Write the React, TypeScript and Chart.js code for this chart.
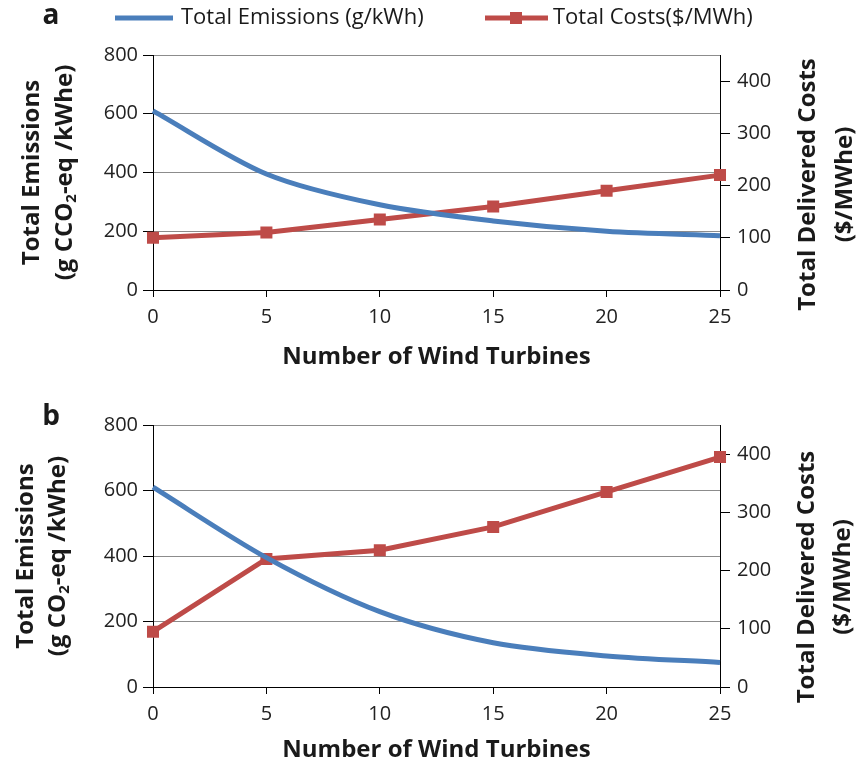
import React, { useEffect, useRef } from "react";
import { Chart, registerables } from "chart.js";

Chart.register(...registerables);

// ---- data ----
const turbines = [0, 5, 10, 15, 20, 25];
const emissionsA = [610, 395, 290, 235, 200, 185];
const costsA = [100, 110, 135, 160, 190, 220];
const emissionsB = [610, 395, 230, 135, 95, 75];
const costsB = [95, 220, 235, 275, 335, 395];
const emissionTicks = [0, 200, 400, 600, 800];
const costTicks = [0, 100, 200, 300, 400];
const legendLabels = ["Total Emissions (g/kWh)", "Total Costs($/MWh)"];
const xTitle = "Number of Wind Turbines";
const leftTitleA = ["Total Emissions", "(g CCO|2|-eq /kWhe)"];
const leftTitleB = ["Total Emissions", "(g CO|2|-eq /kWhe)"];
const rightTitle = ["Total Delivered Costs", "($/MWhe)"];

const BLUE = "#4A7EBB";
const RED = "#BE4B48";
const FONT = "'Open Sans', Lato, sans-serif";
const TEXT = "#1a1a1a";
const TITLE_SIZE = 24;

type Panel = {
  letter: string;
  emissions: number[];
  costs: number[];
  height: number;
  top: number;
  xHeight: number;
  leftTitle: string[];
  legend: boolean;
  xTitleOffset: number;
  leftX: [number, number];
  rightX: [number, number];
  rightDy: number;
  letterY: number;
};

function drawRich(ctx: CanvasRenderingContext2D, text: string, cx: number, cy: number, size: number, weight = "bold") {
  const parts = text.split("|");
  const fontFor = (i: number) => `${weight} ${i % 2 === 1 ? Math.round(size * 0.62) : size}px ${FONT}`;
  let total = 0;
  parts.forEach((t, i) => {
    ctx.font = fontFor(i);
    total += ctx.measureText(t).width;
  });
  let x = cx - total / 2;
  ctx.textAlign = "left";
  ctx.textBaseline = "middle";
  parts.forEach((t, i) => {
    ctx.font = fontFor(i);
    ctx.fillText(t, x, i % 2 === 1 ? cy + size * 0.3 : cy);
    x += ctx.measureText(t).width;
  });
}

function decor(p: Panel) {
  return {
    id: "decor" + p.letter,
    afterDraw(chart: any) {
      const ctx: CanvasRenderingContext2D = chart.ctx;
      const a = chart.chartArea;
      const cy = (a.top + a.bottom) / 2;
      ctx.save();
      ctx.fillStyle = TEXT;
      // panel letter
      ctx.font = `bold 28px ${FONT}`;
      ctx.textAlign = "center";
      ctx.textBaseline = "middle";
      ctx.fillText(p.letter, 51, p.letterY);
      // left title
      ctx.save();
      ctx.translate(p.leftX[0], cy);
      ctx.rotate(-Math.PI / 2);
      drawRich(ctx, p.leftTitle[0], 0, 0, TITLE_SIZE);
      ctx.restore();
      ctx.save();
      ctx.translate(p.leftX[1], cy);
      ctx.rotate(-Math.PI / 2);
      drawRich(ctx, p.leftTitle[1], 0, 0, TITLE_SIZE);
      ctx.restore();
      // right title
      ctx.save();
      ctx.translate(p.rightX[0], cy + p.rightDy);
      ctx.rotate(-Math.PI / 2);
      drawRich(ctx, rightTitle[0], 0, 0, TITLE_SIZE);
      ctx.restore();
      ctx.save();
      ctx.translate(p.rightX[1], cy + p.rightDy);
      ctx.rotate(-Math.PI / 2);
      drawRich(ctx, rightTitle[1], 0, 0, TITLE_SIZE);
      ctx.restore();
      // x title
      drawRich(ctx, xTitle, (a.left + a.right) / 2, a.bottom + p.xTitleOffset, TITLE_SIZE);
      // legend
      if (p.legend) {
        const ly = 18;
        ctx.lineWidth = 5;
        ctx.strokeStyle = BLUE;
        ctx.beginPath();
        ctx.moveTo(115, ly);
        ctx.lineTo(173, ly);
        ctx.stroke();
        ctx.strokeStyle = RED;
        ctx.beginPath();
        ctx.moveTo(485, ly);
        ctx.lineTo(548, ly);
        ctx.stroke();
        ctx.fillStyle = RED;
        ctx.fillRect(516 - 6, ly - 6, 12, 12);
        ctx.fillStyle = TEXT;
        ctx.font = `22px ${FONT}`;
        ctx.textAlign = "left";
        ctx.textBaseline = "middle";
        ctx.fillText(legendLabels[0], 181, ly);
        ctx.fillText(legendLabels[1], 553, ly);
      }
      ctx.restore();
    },
  };
}

function makeConfig(p: Panel): any {
  const tickFont = { family: FONT, size: 20 };
  return {
    type: "line",
    data: {
      labels: turbines.map(String),
      datasets: [
        {
          label: legendLabels[0],
          data: p.emissions,
          yAxisID: "y",
          borderColor: BLUE,
          backgroundColor: BLUE,
          borderWidth: 5,
          pointRadius: 0,
          tension: 0.3,
        },
        {
          label: legendLabels[1],
          data: p.costs,
          yAxisID: "y1",
          borderColor: RED,
          backgroundColor: RED,
          borderWidth: 5,
          pointStyle: "rect",
          pointRadius: 8.5,
          pointBorderWidth: 0,
          tension: 0,
        },
      ],
    },
    options: {
      responsive: false,
      animation: false,
      layout: { padding: { top: p.top, left: 0, right: 0, bottom: 0 } },
      plugins: { legend: { display: false }, tooltip: { enabled: false } },
      scales: {
        x: {
          type: "category",
          offset: false,
          grid: { drawOnChartArea: false, tickLength: 7, tickColor: "#000" },
          border: { color: "#000", width: 1 },
          ticks: { font: tickFont, color: "#222", padding: 8, maxRotation: 0, autoSkip: false },
          afterFit: (s: any) => {
            s.height = p.xHeight;
          },
        },
        y: {
          position: "left",
          min: 0,
          max: 800,
          afterBuildTicks: (s: any) => {
            s.ticks = emissionTicks.map((v) => ({ value: v }));
          },
          ticks: { font: tickFont, color: "#222", padding: 5 },
          grid: {
            color: (c: any) => (c.tick && c.tick.value === 0 ? "rgba(0,0,0,0)" : "#8c8c8c"),
            tickLength: 10,
            tickColor: "#000",
          },
          border: { color: "#000", width: 1 },
          afterFit: (s: any) => {
            s.width = 153;
          },
        },
        y1: {
          position: "right",
          min: 0,
          max: 450,
          afterBuildTicks: (s: any) => {
            s.ticks = costTicks.map((v) => ({ value: v }));
          },
          ticks: { font: tickFont, color: "#222", padding: 7 },
          grid: { drawOnChartArea: false, tickLength: 10, tickColor: "#000" },
          border: { color: "#000", width: 1 },
          afterFit: (s: any) => {
            s.width = 139;
          },
        },
      },
    },
    plugins: [decor(p)],
  };
}

const panelA: Panel = {
  letter: "a",
  emissions: emissionsA,
  costs: costsA,
  height: 385,
  top: 55,
  xHeight: 95,
  leftTitle: leftTitleA,
  legend: true,
  xTitleOffset: 67,
  leftX: [32, 65],
  rightX: [808, 845],
  rightDy: 12,
  letterY: 16,
};

const panelB: Panel = {
  letter: "b",
  emissions: emissionsB,
  costs: costsB,
  height: 384,
  top: 40,
  xHeight: 82,
  leftTitle: leftTitleB,
  legend: false,
  xTitleOffset: 63,
  leftX: [26, 58],
  rightX: [807, 843],
  rightDy: 21,
  letterY: 32,
};

function ChartPanel({ p, topPx }: { p: Panel; topPx: number }) {
  const ref = useRef<HTMLCanvasElement | null>(null);
  useEffect(() => {
    if (!ref.current) return;
    const chart = new Chart(ref.current, makeConfig(p));
    return () => chart.destroy();
  }, [p]);
  return (
    <canvas
      ref={ref}
      width={859}
      height={p.height}
      style={{ position: "absolute", left: 0, top: topPx, width: 859, height: p.height }}
    />
  );
}

export default function App() {
  return (
    <div style={{ position: "absolute", left: 0, top: 0, width: 859, height: 769, background: "#fff" }}>
      <ChartPanel p={panelA} topPx={0} />
      <ChartPanel p={panelB} topPx={385} />
    </div>
  );
}
